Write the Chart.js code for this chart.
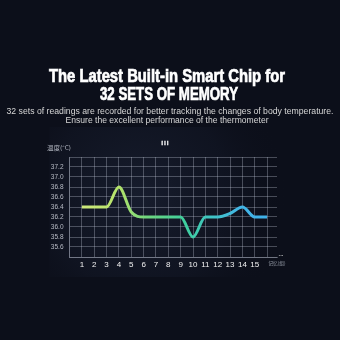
<!DOCTYPE html>
<html>
<head>
<meta charset="utf-8">
<script src="https://cdn.jsdelivr.net/npm/chart.js@4"></script>
<style>
  html, body { margin: 0; padding: 0; background: #0c0f1a; }
  #wrap { position: relative; width: 340px; height: 340px; }
</style>
</head>
<body>
<div id="wrap"><canvas id="chart" width="340" height="340"></canvas></div>
<script>
// memory slot number and recorded temperature
const slots = [1, 2, 3, 4, 5, 6, 7, 8, 9, 10, 11, 12, 13, 14, 15, 16];
const temps = [36.4, 36.4, 36.4, 36.8, 36.3, 36.2, 36.2, 36.2, 36.2, 35.8, 36.2, 36.2, 36.27, 36.4, 36.2, 36.2];
const xTicks = [0, 1, 2, 3, 4, 5, 6, 7, 8, 9, 10, 11, 12, 13, 14, 15, 16];
const xLabels = ['1', '2', '3', '4', '5', '6', '7', '8', '9', '10', '11', '12', '13', '14', '15'];
const yTicks = [35.4, 35.6, 35.8, 36.0, 36.2, 36.4, 36.6, 36.8, 37.0, 37.2, 37.4];
const yLabels = ['35.6', '35.8', '36.0', '36.2', '36.4', '36.6', '36.8', '37.0', '37.2'];

const title1 = 'The Latest Built-in Smart Chip for';
const title2 = '32 SETS OF MEMORY';
const sub1 = '32 sets of readings are recorded for better tracking the changes of body temperature.';
const sub2 = 'Ensure the excellent performance of the thermometer';

function fitText(ctx, text, cx, cy, width, font, color, stroke) {
    ctx.save();
    ctx.font = font;
    const w = ctx.measureText(text).width;
    ctx.translate(cx, cy);
    ctx.scale(width / w, 1);
    ctx.textAlign = 'center';
    ctx.textBaseline = 'middle';
    ctx.fillStyle = color;
    ctx.fillText(text, 0, 0);
    if (stroke) {
        ctx.strokeStyle = color;
        ctx.lineWidth = stroke;
        ctx.strokeText(text, 0, 0);
    }
    ctx.restore();
}

const decor = {
    id: 'decor',
    beforeDraw(chart) {
        const ctx = chart.ctx;
        const ca = chart.chartArea;
        ctx.save();
        ctx.fillStyle = '#0c0f1a';
        ctx.fillRect(0, 0, chart.width, chart.height);
        // faint diagonal glow behind the grid
        const g = ctx.createRadialGradient(ca.left + 70, ca.top + 40, 5, ca.left + 70, ca.top + 40, 150);
        g.addColorStop(0, 'rgba(60,75,110,0.22)');
        g.addColorStop(0.6, 'rgba(40,52,80,0.12)');
        g.addColorStop(1, 'rgba(12,15,26,0)');
        ctx.fillStyle = g;
        ctx.fillRect(ca.left - 20, ca.top - 30, ca.right - ca.left + 40, ca.bottom - ca.top + 50);
        ctx.restore();
    },
    afterDraw(chart) {
        const ctx = chart.ctx;
        fitText(ctx, title1, 167, 77, 236, 'bold 18px "Liberation Sans", Arial, sans-serif', '#ffffff', 0.7);
        fitText(ctx, title2, 169, 95, 138, 'bold 18px "Liberation Sans", Arial, sans-serif', '#ffffff', 0.7);
        fitText(ctx, sub1, 170, 111.5, 327, '9px "Liberation Sans", Arial, sans-serif', '#d6d6d6');
        fitText(ctx, sub2, 167, 121, 203, '9px "Liberation Sans", Arial, sans-serif', '#d6d6d6');
        fitText(ctx, '温度(°C)', 59, 148, 24, '6px "Noto Sans CJK SC", sans-serif', '#b8bcc6');
        fitText(ctx, 'I I I', 165, 143, 7, 'bold 6px "Liberation Sans", sans-serif', '#ffffff', 0.4);
        fitText(ctx, '记忆(组)', 277, 263, 17, '5px "Noto Sans CJK SC", sans-serif', '#9aa0ac');
        fitText(ctx, '...', 281, 254, 5, 'bold 6px "Liberation Sans", sans-serif', '#d0d0d0');
    }
};

function lineGradient(context) {
    const chart = context.chart;
    const ca = chart.chartArea;
    if (!ca) return '#9ddc70';
    const xs = chart.scales.x;
    const g = chart.ctx.createLinearGradient(xs.getPixelForValue(1), 0, xs.getPixelForValue(16), 0);
    g.addColorStop(0, '#cfe97c');
    g.addColorStop(0.2, '#b4e36a');
    g.addColorStop(0.35, '#6fd67e');
    g.addColorStop(0.55, '#3fcf9c');
    g.addColorStop(0.7, '#3fc4c4');
    g.addColorStop(0.85, '#42b6e6');
    g.addColorStop(1, '#3fb0e8');
    return g;
}

const gridColor = 'rgba(200,205,220,0.32)';

new Chart(document.getElementById('chart'), {
    type: 'line',
    data: {
        datasets: [{
            data: slots.map((s, i) => ({ x: s, y: temps[i] })),
            borderColor: lineGradient,
            borderWidth: 3,
            pointRadius: 0,
            cubicInterpolationMode: 'monotone',
            fill: false
        }]
    },
    plugins: [decor],
    options: {
        responsive: false,
        animation: false,
        layout: { padding: { left: 0, right: 63, top: 157, bottom: 63 } },
        plugins: { legend: { display: false }, tooltip: { enabled: false } },
        scales: {
            x: {
                type: 'linear',
                min: 0,
                max: 16.8,
                afterBuildTicks: s => { s.ticks = xTicks.map(v => ({ value: v })); },
                afterFit: s => { s.height = 20; },
                grid: { color: gridColor, drawTicks: false },
                border: { color: gridColor },
                ticks: {
                    padding: 3,
                    maxRotation: 0,
                    autoSkip: false,
                    color: '#f2f2f2',
                    font: { family: '"Liberation Sans", Arial, sans-serif', size: 8 },
                    callback: v => xLabels.includes(String(v)) ? String(v) : ''
                }
            },
            y: {
                min: 35.4,
                max: 37.4,
                afterBuildTicks: s => { s.ticks = yTicks.map(v => ({ value: v })); },
                afterFit: s => { s.width = 69.5; },
                grid: { color: gridColor, drawTicks: false },
                border: { color: gridColor },
                ticks: {
                    padding: 6,
                    autoSkip: false,
                    color: '#b8bcc6',
                    font: { family: '"Liberation Sans", Arial, sans-serif', size: 6.5 },
                    callback: v => {
                        const t = Number(v).toFixed(1);
                        return yLabels.includes(t) ? t : '';
                    }
                }
            }
        }
    }
});
</script>
</body>
</html>
